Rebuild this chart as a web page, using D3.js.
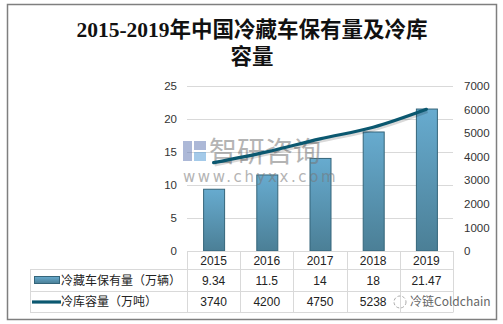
<!DOCTYPE html>
<html><head><meta charset="utf-8">
<script src="https://cdn.jsdelivr.net/npm/d3@7"></script>
<style>body{margin:0;background:#fff;}svg{display:block;}</style>
</head><body>
<script>
const years = ["2015","2016","2017","2018","2019"];
const trucks = [9.34, 11.5, 14, 18, 21.47];
const storage = [3740, 4200, 4750, 5238, 6000];
const leftTicks = [0,5,10,15,20,25];
const rightTicks = [0,1000,2000,3000,4000,5000,6000,7000];
const seriesNames = ["冷藏车保有量（万辆）","冷库容量（万吨）"];
const titleLines = ["2015-2019年中国冷藏车保有量及冷库","容量"];

const W=503,H=324;
const svg=d3.select("body").append("svg").attr("width",W).attr("height",H);
const defs=svg.append("defs");
const g=defs.append("linearGradient").attr("id","barg").attr("x1",0).attr("y1",0).attr("x2",0).attr("y2",1);
g.append("stop").attr("offset","0%").attr("stop-color","#67abcf");
g.append("stop").attr("offset","100%").attr("stop-color","#4b7f96");
const lg=defs.append("linearGradient").attr("id","keyg").attr("x1",0).attr("y1",0).attr("x2",0).attr("y2",1);
lg.append("stop").attr("offset","0%").attr("stop-color","#67abcf");
lg.append("stop").attr("offset","100%").attr("stop-color","#4b7f96");

// outer frame
svg.append("rect").attr("x",7.5).attr("y",4.5).attr("width",489).attr("height",315)
  .attr("fill","#fff").attr("stroke","#7f7f7f").attr("stroke-width",1.5);

// title
const title=svg.append("text").attr("text-anchor","middle").attr("fill","#111")
  .style("font-family","'Liberation Serif','Noto Sans CJK SC',serif").style("font-weight","bold").style("font-size","21.5px");
title.selectAll("tspan").data(titleLines).join("tspan").attr("x",252).attr("y",(d,i)=>37+i*27).text(d=>d);

const x0=187,x1=453,yTop=85.7,yBot=251;
const x=d3.scaleBand().domain(years).range([x0,x1]).padding(0);
const yL=d3.scaleLinear().domain([0,25]).range([yBot,yTop]);
const yR=d3.scaleLinear().domain([0,7000]).range([yBot,yTop]);

// gridlines
svg.append("g").selectAll("line").data(leftTicks.filter(d=>d>0)).join("line")
  .attr("x1",x0).attr("x2",x1).attr("y1",d=>Math.round(yL(d))+0.5).attr("y2",d=>Math.round(yL(d))+0.5)
  .attr("stroke","#d9d9d9").attr("stroke-width",1);

// axes
const axL=svg.append("g").attr("transform",`translate(${x0-10},0)`)
  .call(d3.axisLeft(yL).tickValues(leftTicks).tickSize(0).tickPadding(0).tickFormat(d3.format("d")));
const axR=svg.append("g").attr("transform",`translate(${x1+11},0)`)
  .call(d3.axisRight(yR).tickValues(rightTicks).tickSize(0).tickPadding(0).tickFormat(d3.format("d")));
[axL,axR].forEach(a=>{a.select(".domain").remove();
  a.selectAll("text").attr("fill","#333").style("font-family","'Liberation Sans',Arial,sans-serif").style("font-size","11.5px");});

// bars
const bw=21;
svg.append("g").selectAll("rect").data(trucks).join("rect")
  .attr("x",(d,i)=>x(years[i])+x.bandwidth()/2-bw/2+0.5).attr("y",d=>yL(d))
  .attr("width",bw).attr("height",d=>yBot-yL(d))
  .attr("fill","url(#barg)").attr("stroke","#35657a").attr("stroke-width",1);

// watermark (center)
const wm=svg.append("g").attr("opacity",0.55);
wm.append("rect").attr("x",183).attr("y",141).attr("width",9).attr("height",20).attr("fill","#6a7fb8");
wm.append("rect").attr("x",194).attr("y",141).attr("width",12).attr("height",9).attr("fill","#6a7fb8");
wm.append("rect").attr("x",194).attr("y",152).attr("width",12).attr("height",9).attr("fill","#5aa0d8");
wm.append("text").attr("x",209).attr("y",162).attr("fill","#777").style("font-family","'Noto Sans CJK SC',sans-serif").style("font-size","28px").text("智研咨询");
wm.append("text").attr("x",183).attr("y",182).attr("fill","#777").style("font-family","'DejaVu Sans',sans-serif").style("font-size","15px").style("letter-spacing","2.6px").text("www.chyxx.com");

// line
const line=d3.line().x((d,i)=>x(years[i])+x.bandwidth()/2).y(d=>yR(d)).curve(d3.curveMonotoneX);
svg.append("path").datum(storage).attr("d",line).attr("fill","none").attr("stroke","#000").attr("stroke-opacity",0.15)
  .attr("stroke-width",3.5).attr("transform","translate(1,2)");
svg.append("path").datum(storage).attr("d",line).attr("fill","none").attr("stroke","#0b5870").attr("stroke-width",3.2).attr("stroke-linecap","round");

// table
const tc="#d9d9d9";
const rowY=[251,269.5,291.5,312.5];
const tbl=svg.append("g").attr("stroke",tc).attr("stroke-width",1).attr("fill","none");
tbl.append("line").attr("x1",x0).attr("x2",x1).attr("y1",251.5).attr("y2",251.5);
tbl.append("line").attr("x1",30).attr("x2",x1).attr("y1",rowY[1]).attr("y2",rowY[1]);
tbl.append("line").attr("x1",30).attr("x2",x1).attr("y1",rowY[2]).attr("y2",rowY[2]);
tbl.append("line").attr("x1",30).attr("x2",x1).attr("y1",rowY[3]).attr("y2",rowY[3]);
tbl.append("line").attr("x1",30.5).attr("x2",30.5).attr("y1",rowY[1]).attr("y2",rowY[3]);
const vx=[x0].concat(years.map(y=>x(y)+x.bandwidth()));
tbl.selectAll(".v").data(vx).join("line").attr("class","v")
  .attr("x1",d=>Math.round(d)+0.5).attr("x2",d=>Math.round(d)+0.5).attr("y1",251).attr("y2",rowY[3]);

const tf="'Liberation Sans','Noto Sans CJK SC',sans-serif";
function rowText(vals,cy){
  svg.append("g").selectAll("text").data(vals).join("text")
   .attr("x",(d,i)=>x(years[i])+x.bandwidth()/2).attr("y",cy).attr("text-anchor","middle").attr("dy","0.35em")
   .attr("fill","#222").style("font-family",tf).style("font-size","12px").text(d=>d);
}
rowText(years,260.5);
rowText(trucks,280.5);
// last storage cell is hidden under the corner watermark in the reference
rowText(storage.slice(0,storage.length-1),302);

// legend keys
svg.append("rect").attr("x",34.5).attr("y",276.5).attr("width",25).attr("height",7).attr("fill","url(#keyg)").attr("stroke","#35657a");
svg.append("line").attr("x1",32).attr("x2",61).attr("y1",302).attr("y2",302).attr("stroke","#0b5870").attr("stroke-width",3.2);
svg.selectAll(".lt").data(seriesNames).join("text").attr("class","lt")
  .attr("x",61).attr("y",(d,i)=>i?302:280.5).attr("dy","0.35em").attr("fill","#222")
  .style("font-family","'Noto Sans CJK SC',sans-serif").style("font-size","12px").text(d=>d);

// corner watermark
const cw=svg.append("g");
cw.append("circle").attr("cx",400).attr("cy",302).attr("r",6).attr("fill","none").attr("stroke","#aaa").attr("stroke-dasharray","3 2");
cw.append("text").attr("x",410).attr("y",302).attr("dy","0.35em").attr("fill","#666")
  .style("font-family","'Noto Sans CJK SC',sans-serif").style("font-size","12px").text("冷链Coldchain");
</script>
</body></html>
